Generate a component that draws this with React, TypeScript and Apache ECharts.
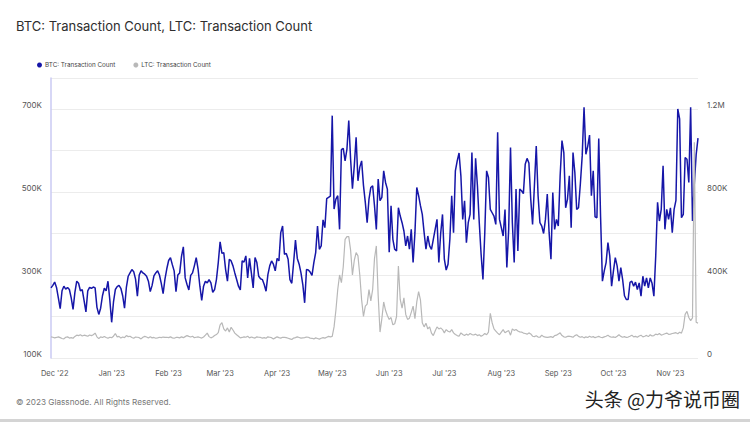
import React, { useEffect, useRef } from 'react';
import * as echarts from 'echarts';

// Daily series, starting 2022-11-29 (one value per day), values in thousands
const START_DATE = '2022-11-29';

const BTC_TX_K = [
  269, 275, 283, 270, 245, 219, 262, 273, 266, 270,
  265, 245, 217, 258, 285, 280, 262, 265, 238, 211,
  262, 270, 268, 271, 269, 222, 205, 220, 250, 268,
  262, 285, 240, 186, 235, 265, 272, 275, 268, 250,
  220, 270, 297, 305, 313, 308, 290, 249, 300, 310,
  305, 302, 297, 285, 260, 275, 298, 305, 310, 300,
  280, 255, 290, 315, 335, 342, 325, 310, 260, 300,
  305, 345, 368, 293, 277, 264, 299, 305, 322, 342,
  315, 273, 239, 273, 285, 281, 289, 281, 258, 265,
  289, 330, 380, 352, 354, 313, 285, 338, 334, 322,
  305, 289, 273, 264, 334, 331, 346, 293, 340, 305,
  269, 342, 330, 297, 291, 289, 277, 261, 301, 322,
  334, 326, 310, 340, 334, 402, 418, 350, 352, 338,
  289, 280, 330, 384, 340, 326, 305, 277, 233, 313,
  312, 307, 299, 330, 354, 418, 362, 370, 433, 414,
  484, 487, 490, 684, 459, 483, 491, 410, 602, 605,
  575, 603, 672, 579, 508, 563, 632, 527, 560, 575,
  516, 475, 426, 483, 511, 515, 467, 410, 531, 479,
  487, 551, 523, 507, 355, 467, 386, 362, 358, 462,
  442, 426, 406, 370, 394, 362, 410, 330, 402, 511,
  491, 467, 446, 402, 362, 394, 370, 362, 386, 410,
  434, 330, 400, 446, 338, 312, 326, 386, 491, 402,
  551, 575, 594, 539, 434, 479, 378, 426, 446, 595,
  434, 581, 515, 426, 350, 289, 402, 551, 535, 458,
  450, 442, 422, 644, 434, 414, 394, 458, 318, 410,
  607, 426, 330, 507, 358, 507, 503, 496, 567, 581,
  570, 483, 422, 515, 611, 491, 426, 418, 400, 434,
  495, 402, 338, 499, 410, 434, 418, 539, 624, 595,
  462, 483, 539, 414, 595, 547, 458, 462, 520, 587,
  704, 591, 610, 637, 491, 551, 440, 438, 629, 440,
  285, 310, 330, 378, 346, 273, 310, 342, 322, 285,
  318, 289, 250, 241, 241, 282, 285, 273, 283, 265,
  281, 249, 297, 273, 293, 269, 293, 280, 249, 346,
  475, 430, 458, 563, 410, 458, 434, 462, 402, 458,
  480, 700, 676, 438, 446, 583, 579, 523, 704, 430,
  520, 590, 630,
];

const LTC_TX_K = [
  102, 100, 97, 99, 102, 98, 94, 92, 100, 102,
  96, 98, 95, 104, 110, 108, 112, 106, 110, 108,
  105, 111, 108, 112, 120, 102, 93, 102, 99, 104,
  99, 95, 100, 98, 105, 118, 102, 104, 96, 101,
  98, 108, 103, 105, 99, 95, 101, 100, 98, 92,
  100, 104, 101, 96, 102, 97, 99, 95, 97, 100,
  98, 101, 99, 100, 98, 102, 97, 95, 99, 99,
  97, 102, 98, 103, 108, 104, 101, 105, 98, 100,
  102, 99, 96, 101, 110, 120, 103, 97, 101, 108,
  113, 122, 160, 170, 140, 130, 145, 125, 148, 135,
  120, 112, 105, 97, 99, 102, 100, 105, 97, 101,
  98, 96, 102, 100, 99, 96, 98, 95, 102, 100,
  98, 92, 97, 102, 98, 96, 100, 99, 98, 95,
  92, 89, 96, 98, 102, 99, 96, 97, 98, 101,
  100, 96, 95, 92, 97, 94, 91, 95, 98, 96,
  100, 104, 102, 104, 150, 230, 330, 400, 363, 440,
  572, 585, 585, 520, 400, 470, 508, 492, 400, 280,
  200, 250, 260, 330, 275, 330, 480, 540, 300, 125,
  190, 270, 230, 205, 186, 195, 160, 165, 200, 443,
  282, 240, 290, 210, 186, 192, 220, 250, 190, 270,
  320, 280, 170, 150, 168, 140, 150, 120, 108, 130,
  150, 140, 145, 137, 121, 137, 129, 125, 137, 121,
  113, 108, 105, 121, 113, 108, 115, 110, 118, 113,
  111, 115, 108, 112, 105, 110, 118, 112, 125, 215,
  170, 140, 130, 120, 112, 125, 137, 122, 128, 132,
  110, 140, 133, 137, 130, 126, 125, 120, 118, 115,
  121, 116, 105, 103, 107, 101, 100, 110, 103, 101,
  99, 101, 103, 99, 108, 110, 116, 121, 108, 102,
  100, 104, 105, 103, 100, 108, 112, 104, 100, 103,
  97, 102, 99, 105, 100, 103, 98, 101, 104, 100,
  98, 102, 105, 110, 103, 100, 102, 99, 105, 112,
  104, 100, 103, 99, 101, 105, 110, 102, 104, 100,
  106, 110, 102, 105, 109, 103, 112, 106, 108, 115,
  112, 118, 110, 113, 117, 120, 114, 115, 118, 120,
  122, 117, 124, 120, 145, 210, 225, 195, 180, 193,
  1040, 172, 168,
];

const SERIES_NAMES = ['BTC: Transaction Count', 'LTC: Transaction Count'];
const LEFT_TICK_LABELS_K = [100, 300, 500, 700];
const RIGHT_TICK_LABELS_K = [0, 400, 800, 1200];
const MONTHS = ['Jan', 'Feb', 'Mar', 'Apr', 'May', 'Jun', 'Jul', 'Aug', 'Sep', 'Oct', 'Nov', 'Dec'];

function buildDates(n: number): string[] {
  const [y, m, d] = START_DATE.split('-').map(Number);
  const base = Date.UTC(y, m - 1, d);
  const out: string[] = [];
  for (let i = 0; i < n; i++) {
    out.push(new Date(base + i * 86400000).toISOString().slice(0, 10));
  }
  return out;
}

const FONT = 'Inter, "Noto Sans", sans-serif';

export default function App() {
  const ref = useRef<HTMLDivElement>(null);
  useEffect(() => {
    if (!ref.current) return;
    const chart = echarts.init(ref.current, null, { renderer: 'svg' });
    const dates = buildDates(BTC_TX_K.length);
    chart.setOption({
      animation: false,
      backgroundColor: '#ffffff',
      textStyle: { fontFamily: FONT },
      grid: { left: 51, right: 52, top: 78, bottom: 64, containLabel: false },
      legend: {
        data: SERIES_NAMES,
        left: 32,
        top: 57,
        icon: 'circle',
        itemWidth: 5,
        itemHeight: 5,
        itemGap: 18,
        textStyle: { fontSize: 6.3, color: '#444', fontFamily: FONT, padding: [0, 0, 0, -2] },
      },
      graphic: [
        {
          type: 'text',
          left: 16,
          top: 19,
          style: {
            text: 'BTC: Transaction Count, LTC: Transaction Count',
            fontSize: 13,
            fontWeight: 400,
            fill: '#2e2e2e',
            fontFamily: FONT,
          },
        },
        {
          type: 'text',
          left: 16,
          top: 398,
          style: {
            text: '© 2023 Glassnode. All Rights Reserved.',
            fontSize: 8.2,
            fill: '#777',
            fontFamily: FONT,
          },
        },
        {
          type: 'text',
          right: 10,
          top: 389,
          style: {
            text: '头条 @力爷说币圈',
            fontSize: 19,
            fill: '#222',
            fontFamily: '"Noto Sans CJK SC", sans-serif',
          },
        },
        {
          type: 'rect',
          left: 0,
          top: 419,
          shape: { width: 750, height: 3 },
          style: { fill: '#d4d4d4' },
        },
      ],
      xAxis: {
        type: 'category',
        data: dates,
        boundaryGap: false,
        axisLine: { show: false },
        axisTick: { show: false },
        splitLine: { show: false },
        axisLabel: {
          interval: (_i: number, v: string) => v.slice(8) === '01',
          formatter: (v: string) => MONTHS[Number(v.slice(5, 7)) - 1] + " '" + v.slice(2, 4),
          fontSize: 7.5,
          color: '#555',
          margin: 11,
          fontFamily: FONT,
        },
      },
      yAxis: [
        {
          type: 'value',
          position: 'left',
          min: 100,
          max: 774.7,
          interval: 100,
          axisLine: { show: true, lineStyle: { color: '#cacaf3', width: 1.5 } },
          axisTick: { show: false },
          splitLine: { lineStyle: { color: '#ececec', width: 1 } },
          axisLabel: {
            fontSize: 8,
            color: '#555',
            margin: 9,
            verticalAlign: 'bottom',
            fontFamily: FONT,
            formatter: (v: number) => (LEFT_TICK_LABELS_K.indexOf(Math.round(v * 10) / 10) >= 0 ? v + 'K' : ''),
          },
        },
        {
          type: 'value',
          position: 'right',
          min: 0,
          max: 1349.4,
          interval: 200,
          axisLine: { show: false },
          axisTick: { show: false },
          splitLine: { show: false },
          axisLabel: {
            fontSize: 8,
            color: '#555',
            margin: 9,
            verticalAlign: 'bottom',
            fontFamily: FONT,
            formatter: (v: number) => {
              const r = Math.round(v * 10) / 10;
              if (RIGHT_TICK_LABELS_K.indexOf(r) < 0) return '';
              if (r === 0) return '0';
              if (r >= 1000) return r / 1000 + 'M';
              return r + 'K';
            },
          },
        },
      ],
      series: [
        {
          name: SERIES_NAMES[0],
          type: 'line',
          yAxisIndex: 0,
          data: BTC_TX_K,
          showSymbol: false,
          symbol: 'circle',
          color: '#1616a8',
          lineStyle: { width: 1.5, color: '#1616a8' },
        },
        {
          name: SERIES_NAMES[1],
          type: 'line',
          yAxisIndex: 1,
          data: LTC_TX_K,
          showSymbol: false,
          symbol: 'circle',
          color: '#b8b8b8',
          lineStyle: { width: 1.2, color: '#b8b8b8' },
        },
      ],
    });
    return () => chart.dispose();
  }, []);
  return (
    <div
      ref={ref}
      style={{ position: 'absolute', left: 0, top: 0, width: 750, height: 422, background: '#fff' }}
    />
  );
}
